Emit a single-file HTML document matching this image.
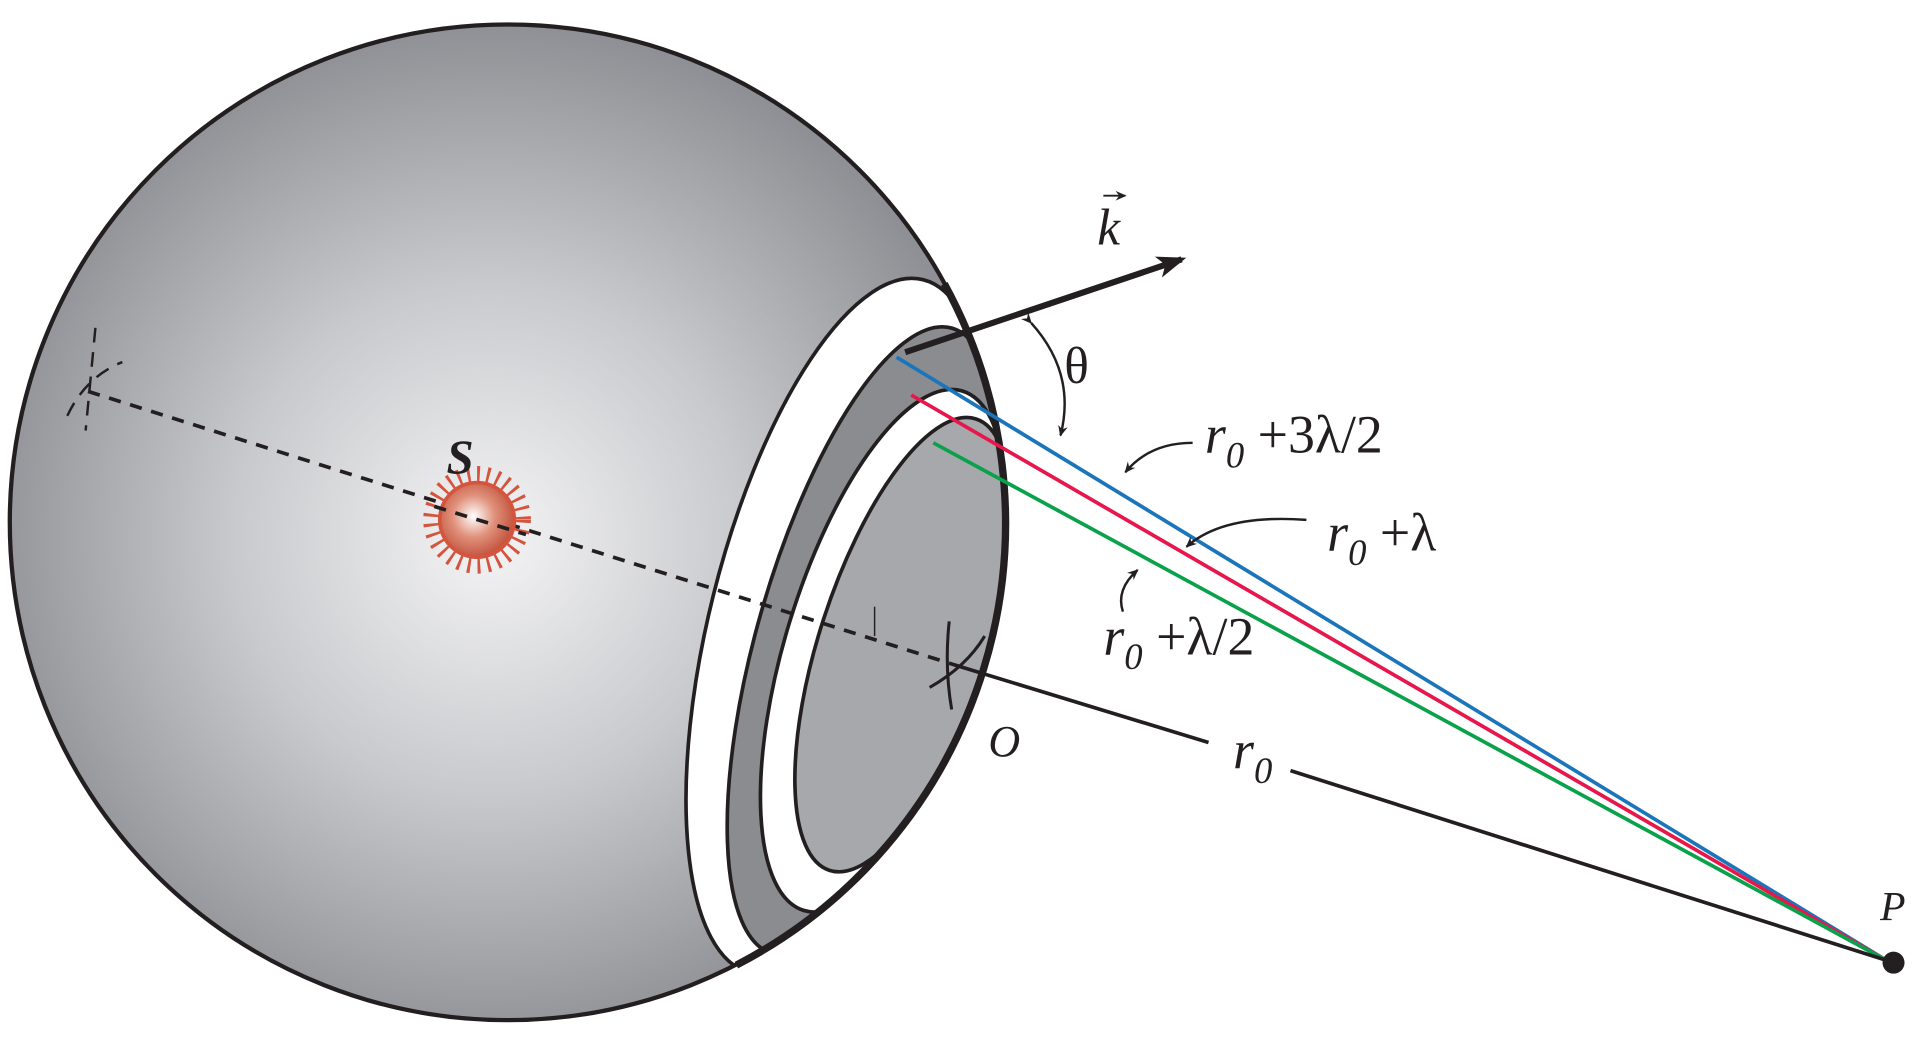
<!DOCTYPE html>
<html><head><meta charset="utf-8"><style>
html,body{margin:0;padding:0;background:#fff;}
svg{display:block;}
text{font-family:"Liberation Serif",serif;}
</style></head><body>
<svg width="1918" height="1056" viewBox="0 0 1568 863.3" xmlns="http://www.w3.org/2000/svg">
<defs>
<radialGradient id="sg" cx="400" cy="440" r="420" gradientUnits="userSpaceOnUse">
<stop offset="0" stop-color="#f4f4f5"/><stop offset="0.5" stop-color="#c8c9cc"/><stop offset="1" stop-color="#8f9095"/>
</radialGradient>
<radialGradient id="star" cx="0.45" cy="0.45" r="0.6">
<stop offset="0" stop-color="#fff"/><stop offset="0.5" stop-color="#e0907a"/><stop offset="1" stop-color="#c0503a"/>
</radialGradient>
<clipPath id="sphclip"><circle cx="415" cy="427" r="407"/></clipPath>
<marker id="ah" markerWidth="10" markerHeight="10" refX="8" refY="5" orient="auto" markerUnits="userSpaceOnUse"><path d="M0,1 L9,5 L0,9 L3,5z" fill="#231f20"/></marker>
<marker id="ahs" markerWidth="26" markerHeight="20" refX="20" refY="10" orient="auto" markerUnits="userSpaceOnUse"><path d="M0,1 L24,10 L0,19 L6,10z" fill="#231f20"/></marker>
</defs>
<g>
<circle cx="415" cy="427" r="407" fill="url(#sg)"/>
<g clip-path="url(#sphclip)" stroke="#231f20" stroke-width="3">
<ellipse cx="684" cy="512" rx="104" ry="292" transform="rotate(14 684 512)" fill="#fff"/>
<ellipse cx="705" cy="524" rx="86" ry="266" transform="rotate(16 705 524)" fill="#8b8c90"/>
<ellipse cx="722" cy="532" rx="80" ry="222" transform="rotate(17 722 532)" fill="#fff"/>
<ellipse cx="738" cy="527" rx="68" ry="194" transform="rotate(18 738 527)" fill="#a7a8ac"/>
</g>
<circle cx="415" cy="427" r="407" fill="none" stroke="#231f20" stroke-width="3.5"/>
<path d="M772,232 A407,407 0 0 1 602,789" fill="none" stroke="#231f20" stroke-width="6"/>
</g>
<g stroke="#231f20" fill="none">
<line x1="72" y1="320" x2="785" y2="545" stroke-width="3" stroke-dasharray="10,8"/>
<line x1="78" y1="268" x2="70" y2="352" stroke-width="2" stroke-dasharray="12,8"/>
<path d="M55,340 Q70,308 100,296" stroke-width="2" stroke-dasharray="12,8"/>
<line x1="715" y1="496" x2="715" y2="520" stroke-width="1.2"/>
<path d="M776,508 Q772,545 778,580" stroke-width="2.5"/>
<path d="M760,562 Q790,545 805,520" stroke-width="2.5"/>
</g>
<g>
<circle cx="390" cy="425" r="36" fill="none" stroke="#d4543e" stroke-width="16" stroke-dasharray="2.2,5.5"/>
<circle cx="390" cy="425" r="32" fill="#d4543e"/>
<circle cx="390" cy="425" r="29" fill="url(#star)"/>
<line x1="355" y1="414" x2="430" y2="437" stroke="#231f20" stroke-width="3" stroke-dasharray="10,8"/>
</g>
<text x="365" y="387" font-family="Liberation Serif, serif" font-size="40" font-style="italic" font-weight="bold" fill="#231f20">S</text>
<g stroke-width="3" fill="none">
<line x1="733" y1="292" x2="1542" y2="785" stroke="#1b75bb"/>
<line x1="745" y1="323" x2="1542" y2="785" stroke="#e8174b"/>
<line x1="763" y1="362" x2="1542" y2="785" stroke="#0aa14b"/>
<line x1="785" y1="545" x2="988" y2="607" stroke="#231f20"/>
<line x1="1055" y1="630" x2="1542" y2="785" stroke="#231f20"/>
</g>
<circle cx="1548" cy="787" r="9" fill="#231f20"/>
<text x="1537" y="752" font-family="Liberation Serif, serif" font-size="34" font-style="italic" fill="#231f20">P</text>
<text x="808" y="618" font-family="Liberation Serif, serif" font-size="36" font-style="italic" fill="#231f20">O</text>
<line x1="740" y1="288" x2="966" y2="212" stroke="#231f20" stroke-width="5" marker-end="url(#ahs)"/>
<text x="897" y="200" font-family="Liberation Serif, serif" font-size="42" font-style="italic" fill="#231f20">k</text>
<line x1="902" y1="160" x2="920" y2="160" stroke="#231f20" stroke-width="1.5" marker-end="url(#ah)"/>
<path d="M843,264 Q880,305 867,356" fill="none" stroke="#231f20" stroke-width="2" marker-start="url(#ah)" marker-end="url(#ah)"/>
<text x="870" y="313" font-family="Liberation Serif, serif" font-size="42" fill="#231f20">θ</text>
<path d="M975,362 Q940,362 920,386" fill="none" stroke="#231f20" stroke-width="2" marker-end="url(#ah)"/>
<text x="985" y="370" font-family="Liberation Serif, serif" font-size="44" font-style="italic" fill="#231f20">r<tspan font-size="30" dy="12">0</tspan><tspan dy="-12" font-style="normal"> +3λ/2</tspan></text>
<path d="M1068,425 Q1000,420 970,447" fill="none" stroke="#231f20" stroke-width="2" marker-end="url(#ah)"/>
<text x="1085" y="450" font-family="Liberation Serif, serif" font-size="44" font-style="italic" fill="#231f20">r<tspan font-size="30" dy="12">0</tspan><tspan dy="-12" font-style="normal"> +λ</tspan></text>
<path d="M918,500 Q912,482 930,466" fill="none" stroke="#231f20" stroke-width="2" marker-end="url(#ah)"/>
<text x="902" y="535" font-family="Liberation Serif, serif" font-size="44" font-style="italic" fill="#231f20">r<tspan font-size="30" dy="12">0</tspan><tspan dy="-12" font-style="normal"> +λ/2</tspan></text>
<text x="1008" y="628" font-family="Liberation Serif, serif" font-size="44" font-style="italic" fill="#231f20">r<tspan font-size="30" dy="12">0</tspan></text>
</svg>
</body></html>
